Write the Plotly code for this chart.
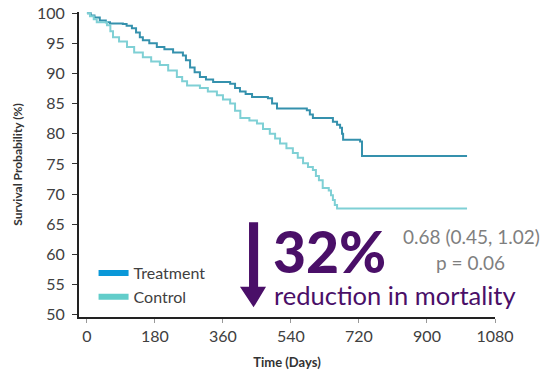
import plotly.graph_objects as go

# ---- data ----
treat_days = [0, 10, 20, 34, 50, 61, 95, 105, 119, 130, 140, 148, 165, 185, 205, 228, 254, 262, 273, 285,
              299, 315, 334, 379, 392, 405, 420, 437, 479, 490, 503, 582, 590, 598, 651, 662, 670, 675,
              678, 723, 728, 1006]
treat_surv = [100, 99.6, 99.3, 98.8, 98.5, 98.3, 98.2, 97.9, 97.5, 96.8, 96.0, 95.5, 95.0, 94.4, 94.0, 93.5,
              93.0, 92.2, 91.0, 90.2, 89.4, 89.0, 88.6, 88.3, 87.6, 87.0, 86.6, 86.1, 85.9, 85.0, 84.2, 83.9,
              83.2, 82.6, 82.0, 81.5, 81.0, 80.0, 79.0, 78.7, 76.3, 76.3]

ctrl_days = [0, 8, 18, 26, 53, 62, 69, 85, 106, 125, 148, 170, 193, 215, 238, 252, 265, 299, 320, 344,
             360, 379, 392, 406, 430, 450, 466, 484, 498, 511, 528, 545, 558, 572, 585, 598, 606, 614,
             624, 640, 646, 651, 656, 662, 1006]
ctrl_surv = [100, 99.5, 99.0, 98.5, 98.0, 97.0, 96.0, 95.3, 94.4, 93.5, 92.7, 92.0, 91.4, 90.5, 89.4, 88.7,
             88.0, 87.6, 87.0, 86.4, 85.7, 85.0, 83.8, 82.6, 82.2, 81.7, 80.8, 80.0, 79.2, 78.4, 77.6, 76.8,
             76.0, 75.1, 74.5, 74.0, 73.0, 72.3, 71.0, 70.6, 69.8, 69.0, 68.2, 67.6, 67.6]

x_ticks = [0, 180, 360, 540, 720, 900, 1080]
y_ticks = [50, 55, 60, 65, 70, 75, 80, 85, 90, 95, 100]

series_names = ["Treatment", "Control"]
line_colors = ["#3591ad", "#7fd0d5"]
legend_colors = ["#0a98d8", "#62cdca"]

FONT = "Lato"
PURPLE = "#4a0f68"

fig = go.Figure()
fig.add_trace(go.Scatter(x=treat_days, y=treat_surv, mode="lines", line=dict(color=line_colors[0], width=2, shape="hv"),
                         showlegend=False, hoverinfo="skip"))
fig.add_trace(go.Scatter(x=ctrl_days, y=ctrl_surv, mode="lines", line=dict(color=line_colors[1], width=2, shape="hv"),
                         showlegend=False, hoverinfo="skip"))
for name, c in zip(series_names, legend_colors):
    fig.add_trace(go.Scatter(x=[None], y=[None], mode="lines", name=name, line=dict(color=c, width=6)))

fig.update_layout(
    width=545, height=376,
    margin=dict(l=79, r=50, t=12, b=59, autoexpand=False),
    plot_bgcolor="white", paper_bgcolor="white",
    font=dict(family=FONT, color="#404040"),
    legend=dict(x=0.035, y=0.2, xanchor="left", yanchor="top", bgcolor="rgba(0,0,0,0)",
                font=dict(size=16, color="#404040", family=FONT), tracegroupgap=0, itemwidth=30),
    xaxis=dict(range=[-21, 1080], tickvals=x_ticks, showgrid=False, zeroline=False, automargin=False,
               showline=True, linecolor="#222222", linewidth=2, ticks="outside", ticklen=4, tickwidth=1,
               tickcolor="#999999", tickfont=dict(size=16, color="#404040"),
               title=dict(text="<b>Time (Days)</b>", font=dict(size=13, color="#333333"), standoff=14)),
    yaxis=dict(range=[49.6, 100.2], tickvals=y_ticks, showgrid=False, zeroline=False, automargin=False,
               showline=True, linecolor="#222222", linewidth=2, ticks="outside", ticklen=5, tickwidth=1,
               tickcolor="#333333", tickfont=dict(size=16, color="#404040"), ticklabelstandoff=4,
               title=dict(text="<b>Survival Probability (%)</b>", font=dict(size=12, color="#333333"), standoff=12)),
)

# purple down arrow
fig.add_shape(type="path", xref="x", yref="y",
              path="M 429 65.3 L 453 65.3 L 453 54.6 L 474 54.6 L 441 51.2 L 405 54.6 L 429 54.6 Z",
              fillcolor=PURPLE, line=dict(width=0))

ann = [
    dict(text="32%", px=329, py=251, size=57, color=PURPLE, weight=900),
    dict(text="reduction in mortality", px=395, py=295, size=25.5, color=PURPLE, weight=400),
    dict(text="0.68 (0.45, 1.02)", px=471, py=236, size=19, color="#7f7f7f", weight=400),
    dict(text="p = 0.06", px=470, py=262, size=19, color="#7f7f7f", weight=400),
]
for a in ann:
    fig.add_annotation(x=(a["px"] - 79) / 416, y=(317 - a["py"]) / 305, xref="paper", yref="paper",
                       text=a["text"], showarrow=False, xanchor="center", yanchor="middle",
                       font=dict(size=a["size"], color=a["color"], family=FONT, weight=a["weight"]))

fig.write_html("out.html")
